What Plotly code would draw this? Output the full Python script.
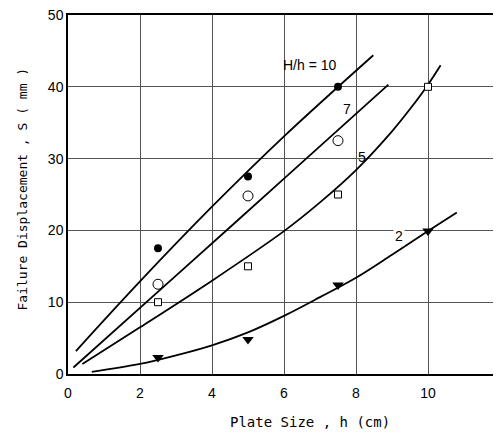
import plotly.graph_objects as go

# Measured points
h_pts = [2.5, 5.0, 7.5]
s_10 = [17.5, 27.5, 40.0]
s_7 = [12.5, 24.8, 32.5]
s_5 = [10.0, 15.0, 25.0, 40.0]
h_5 = [2.5, 5.0, 7.5, 10.0]
s_2 = [2.3, 4.8, 12.4, 19.9]
h_2 = [2.5, 5.0, 7.5, 10.0]

# Fitted curves
cx_10 = [0.22, 2.0, 4.0, 6.0, 8.48]
cy_10 = [3.2, 12.9, 23.3, 33.1, 44.4]
cx_7 = [0.15, 3.0, 6.0, 8.9]
cy_7 = [0.9, 13.7, 27.2, 40.3]
cx_5 = [0.4, 2.0, 4.0, 6.0, 7.0, 8.0, 9.0, 9.5, 10.0, 10.35]
cy_5 = [1.4, 6.5, 13.0, 19.9, 23.9, 28.4, 33.8, 36.9, 40.3, 43.0]
cx_2 = [0.66, 2.0, 3.0, 4.0, 5.0, 6.0, 7.0, 8.0, 9.0, 10.0, 10.8]
cy_2 = [0.3, 1.4, 2.6, 4.0, 5.8, 8.1, 10.7, 13.4, 16.6, 19.9, 22.5]

x_ticks = [0, 2, 4, 6, 8, 10, 12]
y_ticks = [0, 10, 20, 30, 40, 50]

FONT = "Liberation Sans"
MONO = "DejaVu Sans Mono"
fig = go.Figure()
for cx, cy in [(cx_10, cy_10), (cx_7, cy_7), (cx_5, cy_5), (cx_2, cy_2)]:
    fig.add_trace(go.Scatter(x=cx, y=cy, mode="lines",
                             line=dict(color="black", width=1.8, shape="spline", smoothing=1.0),
                             showlegend=False, hoverinfo="skip"))

fig.add_trace(go.Scatter(x=h_pts, y=s_10, mode="markers",
                         marker=dict(symbol="circle", size=8, color="black"), showlegend=False))
fig.add_trace(go.Scatter(x=h_pts, y=s_7, mode="markers",
                         marker=dict(symbol="circle-open", size=10, color="black", line=dict(width=1)),
                         showlegend=False))
fig.add_trace(go.Scatter(x=h_5, y=s_5, mode="markers",
                         marker=dict(symbol="square", size=7, color="white", line=dict(width=1, color="black")),
                         showlegend=False))
fig.add_trace(go.Scatter(x=h_2, y=s_2, mode="markers",
                         marker=dict(symbol="triangle-down", size=10, color="black"), showlegend=False))

labels = [("H/h = 10", 6.73, 43.1), ("7", 7.75, 36.9), ("5", 8.18, 30.2), ("2", 9.2, 19.2)]
for t, x, y in labels:
    fig.add_annotation(x=x, y=y, text=t, showarrow=False, bgcolor="white" if t == "2" else None,
                       font=dict(family=FONT, size=14, color="black"))

fig.add_annotation(xref="paper", yref="paper", x=(12 - 68) / 432, y=(374 - 189) / 359,
                   text="Failure Displacement , S ( mm )", textangle=-90, showarrow=False,
                   font=dict(family=MONO, size=13, color="black"))
fig.add_annotation(xref="paper", yref="paper", x=(310 - 68) / 432, y=(374 - 432) / 359,
                   text="Plate Size , h (cm)", showarrow=False,
                   font=dict(family=MONO, size=14, color="black"))

fig.update_xaxes(range=[0, 12], tickvals=x_ticks, ticktext=[str(v) for v in x_ticks],
                 showgrid=True, gridcolor="#555555", gridwidth=1, showline=True, linecolor="black",
                 linewidth=1.5, mirror=True, ticks="", zeroline=False, automargin=False,
                 ticklabeloverflow="allow", ticklabelstandoff=5,
                 tickfont=dict(family=FONT, size=14, color="black"))
fig.update_yaxes(range=[0, 50], tickvals=y_ticks, ticktext=[str(v) for v in y_ticks],
                 showgrid=True, gridcolor="#555555", gridwidth=1, showline=True, linecolor="black",
                 linewidth=1.5, mirror=True, ticks="", zeroline=False, automargin=False,
                 ticklabeloverflow="allow",
                 tickfont=dict(family=FONT, size=14, color="black"))

# page body has an 8px default margin, so the figure is sized/offset accordingly
fig.update_layout(width=493, height=439, margin=dict(l=60, r=1, t=7, b=73),
                  plot_bgcolor="white", paper_bgcolor="white", showlegend=False)
fig.write_html("out.html")
